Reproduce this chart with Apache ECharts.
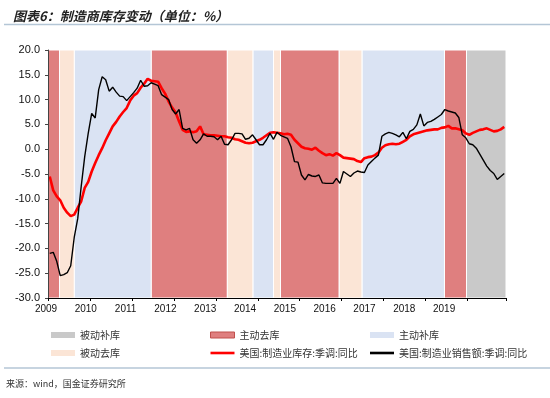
<!DOCTYPE html>
<html>
<head>
<meta charset="utf-8">
<script src="https://cdn.jsdelivr.net/npm/echarts@6/dist/echarts.min.js"></script>
<style>
  html, body { margin: 0; padding: 0; background: #fff; }
  #main { width: 550px; height: 398px; }
</style>
</head>
<body>
<div id="main"></div>
<script>
// 年份 / 月份
const years = [2009, 2010, 2011, 2012, 2013, 2014, 2015, 2016, 2017, 2018, 2019]
const months = []
years.forEach(y => {
  for (let m = 1; m <= 12; m++) {
    if (y === 2019 && m > 11) break
    months.push(y + '-' + (m < 10 ? '0' + m : m))
  }
})

// 美国:制造业库存:季调:同比
const invData = [
  -5.5, -8.3, -9.5, -10.3, -11.8, -12.8, -13.5, -13.2, -11.8, -10.5,
  -7.8, -6.6, -4.5, -2.8, -1.2, 0.2, 1.8, 3.2, 4.6, 5.5,
  6.6, 7.5, 8.3, 9.8, 10.8, 11.3, 12.4, 13.2, 14.2, 13.8,
  13.7, 13.6, 12.3, 11.2, 9.6, 8.4, 7.4, 5.6, 3.9, 3.5,
  3.6, 3.4, 3.6, 4.6, 3.0, 2.9, 2.8, 2.8, 2.7, 2.6,
  2.6, 2.4, 2.3, 2.0, 1.9, 1.6, 1.3, 1.2, 1.3, 1.6,
  1.9, 2.3, 2.8, 3.3, 3.4, 3.3, 3.2, 3.0, 3.1, 2.9,
  1.9, 1.2, 0.5, 0.2, 0.1, -0.1, 0.3, -0.3, -0.8, -1.2,
  -1.0, -1.3, -0.8, -1.2, -1.7, -1.8, -1.9, -2.0, -2.4, -2.6,
  -1.8, -1.6, -1.5, -1.2, -0.7, 0.3, 0.8, 1.0, 1.1, 1.0,
  1.1, 1.5, 1.9, 2.6, 3.0, 3.2, 3.4, 3.6, 3.8, 3.9,
  4.0, 4.0, 4.3, 4.4, 4.7, 4.2, 4.2, 4.0, 3.8, 3.2,
  2.9, 3.3, 3.6, 3.9, 4.0, 4.2, 3.9, 3.6, 3.7, 4.0, 4.5
]

// 美国:制造业销售额:季调:同比
const salesData = [
  -21.0, -20.8, -22.6, -25.5, -25.3, -24.9, -23.5, -17.8, -14.0, -7.5,
  -1.5, 3.2, 7.2, 6.3, 12.0, 14.6, 14.0, 11.7, 12.5, 11.5,
  10.7, 10.6, 9.8, 10.6, 11.4, 12.3, 13.9, 12.7, 12.8, 13.4,
  13.1, 12.8, 11.0, 10.5, 10.0, 8.0, 7.1, 8.0, 4.2, 3.9,
  4.2, 1.9, 1.2, 1.9, 3.1, 2.6, 2.6, 2.5, 1.9, 2.6,
  1.0, 0.9, 1.9, 3.2, 3.2, 3.1, 2.0, 2.2, 2.9, 1.9,
  0.9, 0.9, 1.9, 3.2, 2.0, 3.4, 2.8, 2.5, 2.2, 0.5,
  -2.5, -2.6, -5.2, -6.2, -5.1, -5.4, -5.5, -5.2, -6.8, -6.9,
  -6.9, -6.9, -5.9, -6.9, -4.5, -5.0, -5.5, -4.8, -4.4, -4.6,
  -4.7, -3.2, -2.5, -1.8, -1.2, 2.6, 3.1, 3.4, 3.2, 2.9,
  2.5, 3.4, 2.1, 3.6, 4.0, 4.9, 7.1, 4.7, 5.4, 5.6,
  6.0, 6.5, 7.0, 8.0, 7.7, 7.5, 7.3, 6.4, 2.9, 2.3,
  1.1, 0.9, 0.2, -1.0, -2.2, -3.4, -4.3, -4.9, -6.1, -5.5, -4.9
]

// 库存周期阶段（按月序号，2009年1月 = 0）
const bandStart = [0, 3.3, 7.5, 29.5, 51.3, 58.6, 64.5, 66.5, 83.3, 89.8, 113.4, 119.7]
const bandEnd = [3.3, 7.5, 29.5, 51.3, 58.6, 64.5, 66.5, 83.3, 89.8, 113.4, 119.7, 131]
const bandType = ['主动去库', '被动去库', '主动补库', '主动去库', '被动去库', '主动补库',
  '被动去库', '主动去库', '被动去库', '主动补库', '主动去库', '被动补库']

const phaseNames = ['被动补库', '主动去库', '主动补库', '被动去库']
const phaseColors = ['#c9c9c9', '#df7f7f', '#dae3f3', '#fbe5d6']

const yTicks = { min: -30, max: 20, interval: 5 }

const myChart = echarts.init(document.querySelector('#main'))

// 阶段色块 series
const phaseSeries = phaseNames.map((name, k) => ({
  name: name,
  type: 'line',
  xAxisIndex: 1,
  yAxisIndex: 0,
  data: [],
  symbol: 'none',
  z: 1,
  itemStyle: { color: phaseColors[k] },
  lineStyle: { color: phaseColors[k] },
  markArea: {
    silent: true,
    itemStyle: { color: phaseColors[k], borderColor: '#fff', borderWidth: 1 },
    data: bandType
      .map((t, i) => t === name ? [{ xAxis: bandStart[i] }, { xAxis: bandEnd[i] }] : null)
      .filter(d => d)
  }
}))

const font = 'Liberation Sans, Arial, sans-serif'
const cjk = 'Noto Sans CJK SC'
// 图例线条
const lineIcon = 'path://M0 0H24V2.6H0Z'

const legendBase = {
  orient: 'vertical',
  top: 325,
  itemWidth: 24,
  itemHeight: 6,
  itemGap: 8,
  textStyle: { fontSize: 10, color: '#333', fontFamily: cjk }
}

const option = {
  animation: false,
  backgroundColor: '#fff',
  title: {
    text: '图表6：制造商库存变动（单位：%）',
    left: 8,
    top: 5,
    textStyle: { fontSize: 13, fontWeight: 'bold', fontStyle: 'italic', color: '#222', fontFamily: cjk }
  },
  graphic: [
    { type: 'line', shape: { x1: 4, y1: 24.5, x2: 550, y2: 24.5 }, style: { stroke: '#b4c6d6', lineWidth: 1.5 } },
    { type: 'line', shape: { x1: 4, y1: 368, x2: 550, y2: 368 }, style: { stroke: '#b4c6d6', lineWidth: 1.5 } },
    { type: 'text', left: 6, top: 379, style: { text: '来源：wind，国金证券研究所', fontSize: 9, fill: '#333', fontFamily: cjk } }
  ],
  legend: [
    Object.assign({}, legendBase, {
      left: 46,
      data: [{ name: '被动补库', icon: 'rect' }, { name: '被动去库', icon: 'rect' }]
    }),
    Object.assign({}, legendBase, {
      left: 205,
      data: [
        { name: '主动去库', icon: 'rect', itemStyle: { borderColor: '#c0504d', borderWidth: 1 } },
        { name: '美国:制造业库存:季调:同比', icon: lineIcon }
      ]
    }),
    Object.assign({}, legendBase, {
      left: 365,
      data: [{ name: '主动补库', icon: 'rect' }, { name: '美国:制造业销售额:季调:同比', icon: lineIcon }]
    })
  ],
  grid: [
    { left: 48, right: 44, top: 50, bottom: 100 },
    // 年份标签
    { left: 46, right: 86, top: 50, bottom: 100 }
  ],
  xAxis: [
    {
      type: 'category',
      gridIndex: 0,
      data: months,
      boundaryGap: true,
      show: false
    },
    {
      type: 'value',
      gridIndex: 0,
      position: 'bottom',
      min: 0,
      max: 131,
      interval: 12,
      z: 5,
      axisLine: { onZero: true, lineStyle: { color: '#000', width: 1 } },
      axisTick: { show: true, length: 3, lineStyle: { color: '#000' } },
      axisLabel: { show: false },
      splitLine: { show: false }
    },
    {
      type: 'value',
      gridIndex: 1,
      min: 0,
      max: 10.5,
      interval: 1,
      axisLine: { show: false },
      axisTick: { show: false },
      splitLine: { show: false },
      axisLabel: {
        margin: 6,
        fontSize: 10,
        color: '#111',
        fontFamily: font,
        formatter: v => (Number.isInteger(v) && v < years.length) ? String(years[v]) : ''
      }
    }
  ],
  yAxis: [
    {
      type: 'value',
      gridIndex: 0,
      min: yTicks.min,
      max: yTicks.max,
      interval: yTicks.interval,
      z: 5,
      axisLine: { show: true, onZero: false, lineStyle: { color: '#444' } },
      axisTick: { show: true, length: 3, lineStyle: { color: '#444' } },
      axisLabel: { fontSize: 11, color: '#111', fontFamily: font, margin: 8, formatter: v => v.toFixed(1) },
      splitLine: { show: false }
    },
    { type: 'value', gridIndex: 1, show: false, min: 0, max: 1 }
  ],
  series: phaseSeries.concat([
    {
      name: '美国:制造业库存:季调:同比',
      type: 'line',
      xAxisIndex: 0,
      yAxisIndex: 0,
      data: invData,
      symbol: 'none',
      z: 3,
      itemStyle: { color: '#ff0000' },
      lineStyle: { color: '#ff0000', width: 2.6 }
    },
    {
      name: '美国:制造业销售额:季调:同比',
      type: 'line',
      xAxisIndex: 0,
      yAxisIndex: 0,
      data: salesData,
      symbol: 'none',
      z: 4,
      itemStyle: { color: '#000' },
      lineStyle: { color: '#000', width: 1.4 }
    }
  ])
}

myChart.setOption(option)
</script>
</body>
</html>
